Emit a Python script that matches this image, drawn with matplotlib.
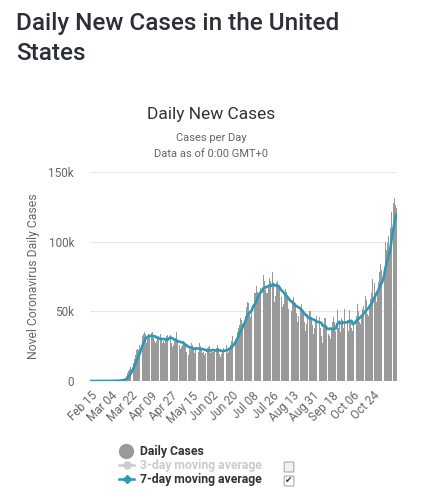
import numpy as np
import pandas as pd
import matplotlib
matplotlib.use("Agg")
import matplotlib.pyplot as plt
from matplotlib.lines import Line2D
from matplotlib.patches import FancyBboxPatch
from matplotlib.ticker import FuncFormatter

plt.rcParams['font.family'] = ['Roboto', 'DejaVu Sans']

# ==========================================
# DATA (daily new cases, thousands)
# ==========================================
START_DATE = "2020-02-15"

feb_cases = [0] * 14 + [0.01]
mar_cases = [0.01, 0.02, 0.02, 0.03, 0.07, 0.1, 0.12, 0.14, 0.2, 0.3, 0.3, 0.4, 0.6,
             0.7, 0.9, 1.4, 2.2, 3.5, 5.5, 7.5, 8.5, 10, 12, 13, 15.5, 19, 22, 23, 22, 26, 29]
apr_cases = [32, 34, 35, 34, 27, 30, 33.5, 33, 34.5, 35, 31, 28.5, 27.5, 28.5, 31, 32.5,
             33.5, 30, 27.5, 28.5, 27, 30, 32, 33, 35.3, 33, 27, 24.5, 25.5, 28]
may_cases = [31, 35, 28.5, 25.5, 23, 24.5, 26, 29, 28, 26, 20.5, 19, 23, 22, 27.5, 25.5,
             24.5, 20, 22.5, 21.5, 21, 27.5, 25, 23, 20, 21, 19, 20, 24, 24.5, 25]
jun_cases = [20, 21.5, 20.5, 20.5, 21.5, 23.5, 25.5, 24, 19.5, 17.5, 19.5, 22, 23.5, 26,
             26, 20, 21, 24, 25.5, 28.5, 32, 33.5, 27, 31, 35.5, 38, 40.5, 45.5, 43.5, 41]
jul_cases = [41.5, 47, 53, 57, 56, 48, 46, 50, 62, 63, 63, 68, 64, 59, 61.5, 67, 69, 76,
             72, 65, 63, 63, 68, 74, 72, 78, 69, 57, 61, 70, 72]
aug_cases = [69, 68, 60, 53, 55, 62, 66, 64, 60, 52, 46, 50, 58, 60, 57, 56, 49, 42, 47,
             53, 55, 51, 48, 42, 36, 41, 48, 50, 50, 46, 40]
sep_cases = [34, 38, 44, 47, 47, 46, 38, 32, 27, 38, 45, 45, 40, 34, 32, 30, 37, 42, 46,
             42, 36, 51, 38, 43, 35, 45, 44, 38, 52, 37]
oct_cases = [44, 36, 51, 44, 38, 36, 41, 45, 47, 55, 50, 42, 41, 47, 52, 54, 61, 58, 48,
             47, 55, 59, 63, 73, 70, 60, 57, 64, 71, 78, 84]
nov_cases = [80, 74, 78, 100, 94, 99, 104, 96, 110, 121, 128, 131, 126, 124]

daily = pd.Series(feb_cases + mar_cases + apr_cases + may_cases + jun_cases +
                  jul_cases + aug_cases + sep_cases + oct_cases + nov_cases)
dates = pd.date_range(START_DATE, periods=len(daily))
avg7 = daily.rolling(7, min_periods=1).mean()

# labels every 18 days, last shown label is Oct 24
TICK_STEP = 18
LAST_TICK = 252
tick_idx = np.arange(0, LAST_TICK + 1, TICK_STEP)
tick_labels = [dates[i].strftime("%b %d") for i in tick_idx]

# ==========================================
# FIGURE
# ==========================================
BAR_COLOR = "#9a9a9a"
LINE_COLOR = "#2f98b4"
TEXT_DARK = "#2b2f38"
TEXT_GREY = "#666666"

fig = plt.figure(figsize=(4.21, 5.0), dpi=100)
fig.patch.set_facecolor("white")

fig.text(16 / 421, 1 - 12 / 500, "Daily New Cases in the United\nStates", ha="left", va="top",
         fontsize=17.5, fontweight="medium", color=TEXT_DARK, linespacing=1.38)
fig.text(211 / 421, 1 - 115 / 500, "Daily New Cases", ha="center", va="center",
         fontsize=12.5, color="#333333")
fig.text(211 / 421, 1 - 138 / 500, "Cases per Day", ha="center", va="center",
         fontsize=8, color=TEXT_GREY)
fig.text(211 / 421, 1 - 154 / 500, "Data as of 0:00 GMT+0", ha="center", va="center",
         fontsize=8, color=TEXT_GREY)

ax = fig.add_axes([90 / 421, 1 - 381 / 500, 307 / 421, 209 / 500])
x = np.arange(len(daily))
ax.bar(x, daily, width=0.85, color=BAR_COLOR, linewidth=0, zorder=2)
ax.plot(x, avg7, color=LINE_COLOR, linewidth=1.9, zorder=3)

ax.set_xlim(-0.5, len(daily) - 0.5)
ax.set_ylim(0, 150)
ax.set_yticks([0, 50, 100, 150])
ax.yaxis.set_major_formatter(FuncFormatter(lambda v, p: "0" if v == 0 else f"{int(v)}k"))
ax.grid(axis="y", color="#e6e6e6", linewidth=0.8, zorder=0)
ax.set_axisbelow(True)
for s in ax.spines.values():
    s.set_visible(False)
ax.tick_params(axis="y", length=0, labelsize=8.5, labelcolor=TEXT_GREY, pad=11.5)
ax.set_xticks(tick_idx)
ax.set_xticklabels(tick_labels, rotation=45, ha="right", rotation_mode="anchor",
                   fontsize=8.5, color=TEXT_GREY)
ax.tick_params(axis="x", length=0, pad=6)
ax.set_ylabel("Novel Coronavirus Daily Cases", fontsize=8.8, color=TEXT_GREY, labelpad=6)

# ==========================================
# LEGEND (drawn by hand, highcharts style)
# ==========================================
def fy(py):
    return 1 - py / 500

LEG_FS = 8.8

fig.add_artist(Line2D([126 / 421], [fy(451)], marker="o", markersize=10,
                      color=BAR_COLOR, linestyle="none"))
fig.text(140 / 421, fy(451), "Daily Cases", ha="left", va="center",
         fontsize=LEG_FS, fontweight="bold", color="#333333")

fig.add_artist(Line2D([119 / 421, 134 / 421], [fy(465), fy(465)], color="#cccccc",
                      linewidth=1.8))
fig.add_artist(Line2D([126.5 / 421], [fy(465)], marker="o", markersize=5,
                      color="#cccccc", linestyle="none"))
fig.text(140 / 421, fy(465), "3-day moving average", ha="left", va="center",
         fontsize=LEG_FS, fontweight="bold", color="#cccccc")

fig.add_artist(Line2D([119 / 421, 134 / 421], [fy(479), fy(479)], color=LINE_COLOR,
                      linewidth=1.8))
fig.add_artist(Line2D([126.5 / 421], [fy(479)], marker="D", markersize=4.5,
                      color=LINE_COLOR, linestyle="none"))
fig.text(140 / 421, fy(479), "7-day moving average", ha="left", va="center",
         fontsize=LEG_FS, fontweight="bold", color="#333333")

for cy, checked in [(467, False), (481, True)]:
    box = FancyBboxPatch((285 / 421, fy(cy + 4)), 8 / 421, 8 / 500,
                         boxstyle="round,pad=0.002", transform=fig.transFigure,
                         facecolor="#f2f2f2" if not checked else "white",
                         edgecolor="#aaaaaa", linewidth=0.8)
    fig.add_artist(box)
    if checked:
        fig.text(289 / 421, fy(cy), "\u2714", ha="center", va="center",
                 fontsize=6.5, color="#333333", family="DejaVu Sans")

fig.savefig("out.png", dpi=100)
